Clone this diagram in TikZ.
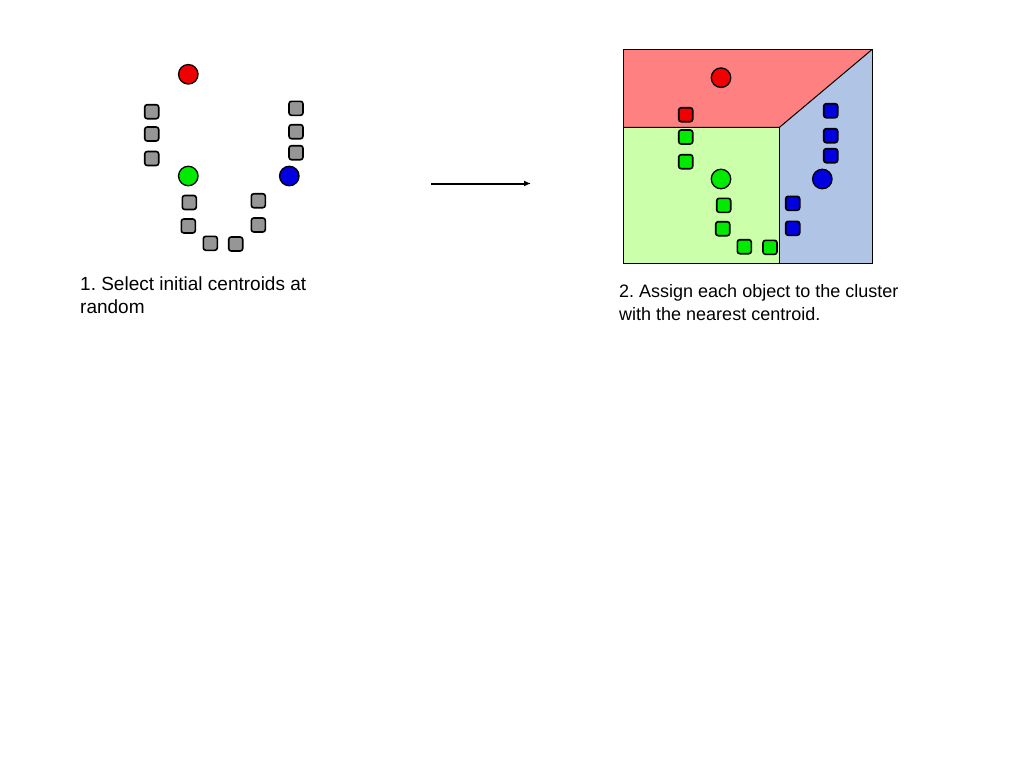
\documentclass[tikz,border=0pt]{standalone}
\usepackage{fontspec}
\setmainfont{Liberation Sans}
\usetikzlibrary{arrows.meta}
\frenchspacing
\begin{document}
\begin{tikzpicture}[x=1pt,y=-1pt,
  obj/.style={draw=black,line width=1.6pt,rounded corners=2.5pt,minimum size=14pt,inner sep=0pt,outer sep=0pt},
  cen/.style={circle,draw=black,line width=1.3pt,minimum size=19.5pt,inner sep=0pt},
  gray obj/.style={obj,fill=graysq},
  lbl/.style={anchor=north west,inner sep=0pt,align=left,font=\fontsize{19}{23}\selectfont}]
\definecolor{graysq}{RGB}{150,150,150}
\definecolor{redc}{RGB}{240,0,0}
\definecolor{greenc}{RGB}{0,235,0}
\definecolor{bluec}{RGB}{0,0,225}
\definecolor{redreg}{RGB}{255,128,128}
\definecolor{greenreg}{RGB}{204,255,170}
\definecolor{bluereg}{RGB}{176,196,230}
\useasboundingbox (0,0) rectangle (1024,768);
% ---- left panel ----
\node[cen,fill=redc] (c1r) at (188.3,74.3) {};
\node[cen,fill=greenc] (c1g) at (188.3,176) {};
\node[cen,fill=bluec] (c1b) at (289.3,176) {};
\node[gray obj] (a1) at (151.7,111.7) {};
\node[gray obj] (a2) at (151.7,134) {};
\node[gray obj] (a3) at (151.7,158.5) {};
\node[gray obj] (a4) at (296,108.3) {};
\node[gray obj] (a5) at (296,131.7) {};
\node[gray obj] (a6) at (296,152.7) {};
\node[gray obj] (a7) at (189.3,202.5) {};
\node[gray obj] (a8) at (188.3,226) {};
\node[gray obj] (a9) at (210.3,243.3) {};
\node[gray obj] (a10) at (235.7,244) {};
\node[gray obj] (a11) at (258.3,200.7) {};
\node[gray obj] (a12) at (258.3,225) {};
\node[lbl] (t1) at (80,277) {1. Select initial centroids at\\random};
% ---- arrow ----
\coordinate (arS) at (431,183.5);
\coordinate (arE) at (531,183.5);
\draw[line width=2pt,-{Latex[length=7pt,width=6pt]}] (arS) -- (arE);
% ---- right panel ----
\coordinate (tl) at (623.3,49.3);
\coordinate (tr) at (872.3,49.3);
\coordinate (br) at (872.3,263.5);
\coordinate (bl) at (623.3,263.5);
\coordinate (ml) at (623.3,127.3);
\coordinate (mm) at (779.5,127.3);
\coordinate (mb) at (779.5,263.5);
\fill[redreg] (tl) -- (tr) -- (mm) -- (ml) -- cycle;
\fill[greenreg] (ml) -- (mm) -- (mb) -- (bl) -- cycle;
\fill[bluereg] (mm) -- (tr) -- (br) -- (mb) -- cycle;
\draw[line width=1pt] (tl) rectangle (br);
\draw[line width=1pt] (ml) -- (mm) -- (tr);
\draw[line width=1pt] (mm) -- (mb);
\node[cen,fill=redc] (c2r) at (721,77.7) {};
\node[cen,fill=greenc] (c2g) at (721,179) {};
\node[cen,fill=bluec] (c2b) at (822.3,179) {};
\node[obj,fill=redc] (b1) at (685.7,114.7) {};
\node[obj,fill=greenc] (b2) at (685.7,137) {};
\node[obj,fill=greenc] (b3) at (685.7,161.7) {};
\node[obj,fill=greenc] (b4) at (723.7,205.3) {};
\node[obj,fill=greenc] (b5) at (722.7,228.7) {};
\node[obj,fill=greenc] (b6) at (744.3,246.7) {};
\node[obj,fill=greenc] (b7) at (770,247.3) {};
\node[obj,fill=bluec] (b8) at (830.7,110.7) {};
\node[obj,fill=bluec] (b9) at (830.7,135.7) {};
\node[obj,fill=bluec] (b10) at (830.7,155.7) {};
\node[obj,fill=bluec] (b11) at (792.7,203.3) {};
\node[obj,fill=bluec] (b12) at (792.7,228.3) {};
\node[lbl,font=\fontsize{18}{22.5}\selectfont] (t2) at (619,284.5) {2. Assign each object to the cluster\\with the nearest centroid.};
\end{tikzpicture}
\end{document}
